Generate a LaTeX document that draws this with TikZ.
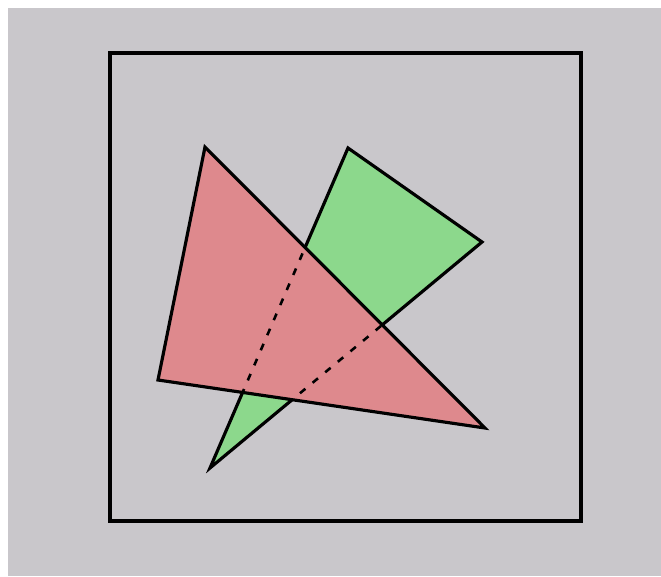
\documentclass[tikz,border=0pt]{standalone}
\usepackage{tikz}
\definecolor{bggray}{RGB}{201,199,203}
\definecolor{redfill}{RGB}{222,137,141}
\definecolor{greenfill}{RGB}{140,216,140}

\begin{document}
\begin{tikzpicture}[x=0.03cm,y=-0.03cm,line join=miter,
   edge/.style={draw=black,line width=2.7pt},
   hidden/.style={black,line width=2.2pt,dash pattern=on 6pt off 8pt}]
  % page and background
  \fill[white] (0,0) rectangle (661,576);
  \fill[bggray] (8,8) rectangle (661,576);
  \useasboundingbox (0,0) rectangle (661,576);
  % frame
  \draw[line width=3.2pt] (110,53) rectangle (581,521);
  % vertices
  \coordinate (g1) at (348,148);
  \coordinate (g2) at (482,242);
  \coordinate (g3) at (210,468);
  \coordinate (r1) at (205,147);
  \coordinate (r2) at (158,380);
  \coordinate (r3) at (485,428);
  % green triangle behind
  \fill[greenfill] (g1) -- (g2) -- (g3) -- cycle;
  \draw[edge] (g1) -- (g2) -- (g3) -- cycle;
  % red triangle in front
  \fill[redfill] (r1) -- (r2) -- (r3) -- cycle;
  % hidden green edges
  \begin{scope}
    \clip (r1) -- (r2) -- (r3) -- cycle;
    \draw[hidden] (g1) -- (g3);
    \draw[hidden] (g2) -- (g3);
  \end{scope}
  \draw[edge] (r1) -- (r2) -- (r3) -- cycle;
\end{tikzpicture}
\end{document}
